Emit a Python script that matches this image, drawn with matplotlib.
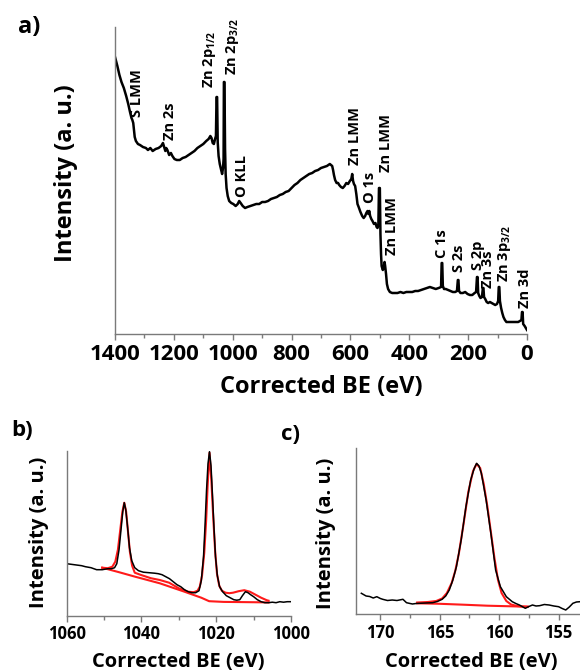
import matplotlib.pyplot as plt
from matplotlib.ticker import MultipleLocator

plt.rcParams['font.family'] = ['Open Sans', 'DejaVu Sans']
plt.rcParams['font.weight'] = 'bold'
plt.rcParams['mathtext.fontset'] = 'custom'
plt.rcParams['mathtext.rm'] = 'Open Sans:bold'
plt.rcParams['mathtext.it'] = 'Open Sans:bold'

# survey spectrum (BE eV, intensity a.u.)
survey = [(1400, 277), (1392, 268), (1385, 259), (1378, 252), (1370, 246), (1362, 238), (1355, 230),
          (1349, 222), (1344, 216), (1341, 214), (1338, 211), (1336, 205), (1333, 197), (1329, 193),
          (1322, 190), (1315, 189), (1305, 187), (1295, 186), (1288, 184), (1280, 186), (1272, 183),
          (1262, 185), (1252, 186), (1243, 188), (1237, 191), (1233, 187), (1229, 183), (1226, 186),
          (1222, 184), (1216, 179), (1210, 181), (1205, 178), (1198, 175), (1190, 174), (1180, 174),
          (1170, 176), (1160, 177), (1150, 179), (1140, 181), (1130, 183), (1120, 186), (1110, 188),
          (1100, 190), (1090, 193), (1082, 195), (1076, 198), (1072, 196), (1068, 191), (1064, 190),
          (1060, 195), (1057, 198), (1055, 237), (1053, 237), (1051, 192), (1048, 178), (1044, 170),
          (1040, 165), (1036, 160), (1033, 166), (1031, 175), (1030, 252), (1028, 252), (1026, 185),
          (1024, 160), (1021, 146), (1017, 138), (1012, 133), (1005, 131), (998, 130), (990, 128),
          (983, 130), (978, 133), (973, 131), (966, 128), (958, 126), (950, 127), (940, 128),
          (930, 129), (920, 130), (910, 130), (900, 132), (890, 132), (880, 133), (870, 135),
          (860, 136), (850, 137), (840, 139), (830, 140), (820, 142), (810, 143), (800, 146),
          (790, 149), (780, 151), (770, 154), (760, 156), (750, 158), (740, 160), (730, 161),
          (720, 163), (710, 164), (700, 166), (690, 167), (680, 168), (670, 170), (666, 169),
          (662, 168), (659, 164), (656, 159), (652, 154), (647, 151), (642, 151), (638, 149),
          (632, 147), (626, 146), (620, 148), (614, 151), (608, 150), (602, 153), (597, 155),
          (594, 160), (591, 153), (588, 150), (584, 148), (580, 140), (576, 130), (572, 127),
          (566, 122), (560, 118), (555, 116), (550, 118), (546, 121), (542, 123), (539, 120),
          (536, 123), (533, 118), (529, 115), (525, 113), (520, 110), (515, 111), (511, 107),
          (508, 106), (505, 110), (503, 146), (500, 146), (498, 100), (496, 80), (494, 68),
          (490, 64), (487, 66), (484, 72), (482, 68), (479, 60), (476, 50), (472, 45), (466, 42),
          (458, 41), (450, 41), (440, 41), (430, 42), (420, 41), (410, 42), (400, 42), (390, 42),
          (380, 43), (370, 43), (360, 44), (350, 45), (340, 46), (330, 47), (320, 46), (310, 45),
          (300, 46), (292, 47), (290, 71), (288, 71), (286, 48), (282, 45), (276, 45), (268, 44),
          (260, 43), (252, 42), (244, 42), (238, 43), (235, 54), (233, 54), (231, 43), (226, 41),
          (218, 41), (210, 42), (202, 40), (194, 39), (186, 39), (178, 41), (173, 42), (170, 57),
          (168, 57), (166, 41), (162, 38), (158, 36), (153, 37), (150, 46), (148, 46), (146, 37),
          (142, 35), (137, 32), (132, 31), (126, 32), (120, 31), (114, 30), (108, 29), (102, 30),
          (98, 33), (96, 47), (94, 47), (92, 33), (88, 26), (84, 21), (80, 17), (75, 14), (70, 12),
          (62, 12), (54, 12), (46, 12), (38, 12), (30, 12), (24, 13), (19, 14), (17, 22), (15, 22),
          (13, 10), (8, 8), (4, 6), (0, 4)]
survey_be, survey_int = zip(*survey)

# peak labels in the survey: (text, BE, intensity at bottom of label)
peak_labels = [("S LMM", 1325, 217), ("Zn 2s", 1212, 194), ("Zn 2p$_{1/2}$", 1080, 246),
               ("Zn 2p$_{3/2}$", 1002, 259), ("O KLL", 968, 137), ("Zn LMM", 583, 169),
               ("O 1s", 535, 131), ("Zn LMM", 480, 162), ("Zn LMM", 459, 79), ("C 1s", 289, 76),
               ("S 2s", 231, 62), ("S 2p", 167, 64), ("Zn 3s", 133, 46),
               ("Zn 3p$_{3/2}$", 75, 52), ("Zn 3d", 7, 26)]

# Zn 2p high resolution
zn2p = [(1060, 52), (1058, 51), (1056, 50), (1055, 49), (1053.5, 48), (1052, 46), (1050.5, 46),
        (1049, 47), (1048, 47), (1047.2, 48), (1046.6, 52), (1046, 66), (1045.5, 85), (1045, 104),
        (1044.6, 113), (1044.2, 106), (1043.7, 88), (1043.2, 68), (1042.6, 55), (1041.8, 48),
        (1040.8, 45), (1039.5, 43.5), (1038, 43), (1036.5, 42.5), (1035.5, 42), (1034.5, 41),
        (1033.5, 39), (1032.5, 37), (1031.5, 34), (1030.5, 31), (1029.5, 29), (1028.5, 26),
        (1027.5, 24), (1026.5, 23), (1025.5, 23), (1024.6, 25), (1024, 35), (1023.4, 59),
        (1023, 90), (1022.6, 125), (1022.2, 152), (1021.8, 164), (1021.4, 150), (1021, 120),
        (1020.6, 88), (1020.2, 59), (1019.7, 40), (1019.1, 29), (1018.3, 24), (1017.3, 20),
        (1016.3, 18), (1015.3, 16), (1014.5, 15.5), (1013.7, 16), (1013, 20), (1012.2, 24),
        (1011.5, 23), (1010.8, 21), (1010, 19), (1009, 16), (1008, 14), (1007, 13), (1006, 13),
        (1005, 13.5), (1004, 13), (1003, 14), (1002, 13.5), (1001, 14), (1000, 14)]
zn2p_fit = [(1050.5, 48), (1049, 47.5), (1047.8, 49), (1047, 54), (1046.3, 66), (1045.7, 85),
            (1045.1, 104), (1044.6, 113), (1044.1, 104), (1043.6, 84), (1043.1, 64), (1042.5, 50),
            (1041.8, 43), (1040.1, 40.7), (1037.5, 37.5), (1035.1, 35.7), (1032.6, 33), (1030, 27.4),
            (1027.6, 24), (1026, 23.5), (1025, 25), (1024.4, 29), (1023.8, 40), (1023.2, 63),
            (1022.7, 95), (1022.3, 130), (1021.8, 163), (1021.3, 135), (1020.8, 98), (1020.3, 65),
            (1019.8, 42), (1019.2, 30), (1018.5, 25), (1017.5, 23), (1016.5, 22.5), (1015.5, 23),
            (1014, 24.5), (1012.5, 25.5), (1011, 24), (1009.5, 21), (1008, 18), (1006.5, 15.5),
            (1006, 15)]
zn2p_bg = [(1050.5, 48), (1046, 43.5), (1041.7, 39), (1035.1, 32.4), (1028.5, 24), (1024, 18),
           (1021.9, 14.5), (1018, 13.8), (1013, 13.6), (1006, 13.3)]

# S 2p high resolution
s2p = [(171.6, 20.7), (171.2, 18), (170.9, 17.5), (170.6, 16), (170.3, 17.3), (170.0, 15.5),
       (169.8, 14.7), (169.4, 13.5), (169.0, 14), (168.6, 13.5), (168.1, 14.7), (167.8, 11.3),
       (167.5, 10.5), (167.3, 10), (167.0, 10.5), (166.7, 10.7), (166.2, 11), (165.6, 11.3),
       (165.2, 12.5), (164.8, 14.7), (164.5, 18), (164.2, 24), (163.9, 34), (163.6, 47.3),
       (163.2, 74), (162.8, 107.3), (162.4, 134), (162.1, 145.7), (161.9, 150.7), (161.7, 148),
       (161.5, 140.7), (161.1, 114), (160.7, 80.7), (160.3, 44), (159.9, 27.3), (159.4, 17.3),
       (158.9, 12.3), (158.6, 10.5), (158.3, 9), (158.0, 7), (157.8, 5.7), (157.5, 7.5),
       (157.2, 9), (156.9, 8), (156.6, 8.3), (156.2, 9.5), (155.8, 9), (155.4, 8), (155.0, 7.3),
       (154.7, 5.5), (154.4, 4), (154.1, 7), (153.8, 10.7), (153.5, 12), (153.2, 12.3)]
s2p_fit = [(166.9, 11.5), (166, 12), (165.3, 13), (164.8, 15.5), (164.4, 21), (164.0, 31),
           (163.7, 43), (163.4, 60), (163.0, 90), (162.6, 122), (162.2, 143), (161.9, 150),
           (161.6, 146), (161.3, 130), (161.0, 108), (160.7, 82), (160.4, 56), (160.1, 34),
           (159.8, 21), (159.4, 13), (159.0, 9.5), (158.5, 8), (158.0, 7.5), (157.6, 7.3)]
s2p_bg = [(166.9, 10.7), (165, 10.2), (163, 9.3), (161, 8.3), (159, 7.7), (157.6, 7.3)]

W, H = 580, 672
SPINE = '#7a7a7a'
RED = '#ff1a1a'


def box(left, top, right, bottom):
    # pixel box -> figure fraction
    return [left / W, 1 - bottom / H, (right - left) / W, (bottom - top) / H]


def style(ax, size, major, minor):
    for s in ['top', 'right']:
        ax.spines[s].set_visible(False)
    for s in ['left', 'bottom']:
        ax.spines[s].set_color(SPINE)
        ax.spines[s].set_linewidth(1.0)
    ax.set_yticks([])
    ax.xaxis.set_major_locator(MultipleLocator(major))
    ax.xaxis.set_minor_locator(MultipleLocator(minor))
    ax.tick_params(axis='x', which='major', direction='out', length=4, width=1,
                   color=SPINE, labelsize=size, pad=3)
    ax.tick_params(axis='x', which='minor', direction='out', length=3, width=1, color=SPINE)


def ftext(x, y, s, size, rot=0):
    fig.text(x / W, 1 - y / H, s, fontsize=size, fontweight='bold', rotation=rot,
             ha='center', va='center')


fig = plt.figure(figsize=(W / 100, H / 100), dpi=100)

# a) survey
ax_a = fig.add_axes(box(115, 27, 527, 334))
ax_a.plot(survey_be, survey_int, color='black', lw=1.8)
ax_a.set_xlim(1400, 0)
ax_a.set_ylim(0, 307)
style(ax_a, 16, 200, 100)
for name, be, y in peak_labels:
    ax_a.text(be, y, name, rotation=90, ha='center', va='bottom', fontsize=10.5,
              fontweight='bold', clip_on=False)
ftext(29, 27, 'a)', 17)
ftext(66, 173, 'Intensity (a. u.)', 17, 90)
ftext(321, 387, 'Corrected BE (eV)', 17)

# b) Zn 2p
ax_b = fig.add_axes(box(66.7, 450.7, 291, 615.7))
x, y = zip(*zn2p_fit)
ax_b.plot(x, y, color=RED, lw=1.5)
x, y = zip(*zn2p_bg)
ax_b.plot(x, y, color=RED, lw=1.5)
x, y = zip(*zn2p)
ax_b.plot(x, y, color='black', lw=1.1)
ax_b.set_xlim(1060, 1000)
ax_b.set_ylim(0, 165)
style(ax_b, 12, 20, 10)
ftext(22, 431, 'b)', 16)
ftext(39, 532, 'Intensity (a. u.)', 14.5, 90)
ftext(178, 662, 'Corrected BE (eV)', 14.5)

# c) S 2p
ax_c = fig.add_axes(box(356, 448, 580, 614))
x, y = zip(*s2p_fit)
ax_c.plot(x, y, color=RED, lw=1.5)
x, y = zip(*s2p_bg)
ax_c.plot(x, y, color=RED, lw=1.5)
x, y = zip(*s2p)
ax_c.plot(x, y, color='black', lw=1.1)
ax_c.set_xlim(172.05, 153.2)
ax_c.set_ylim(0, 166)
style(ax_c, 12, 5, 2.5)
ftext(291, 435, 'c)', 16)
ftext(326, 533, 'Intensity (a. u.)', 14.5, 90)
ftext(471, 662, 'Corrected BE (eV)', 14.5)

fig.savefig('out.png', dpi=100)
